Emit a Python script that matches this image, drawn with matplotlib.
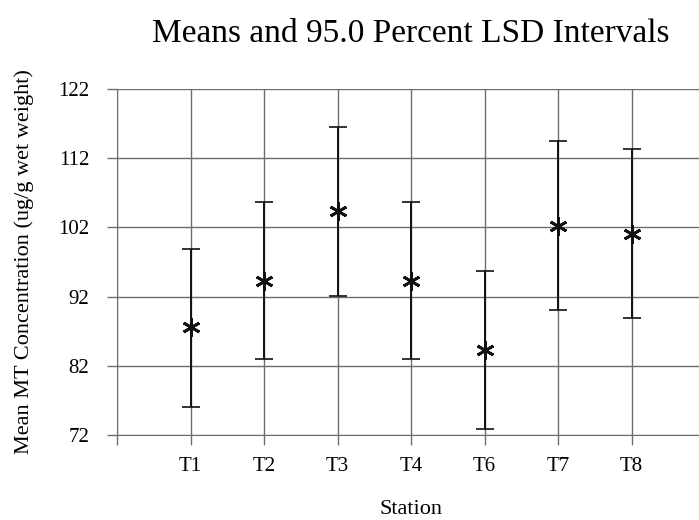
import matplotlib
matplotlib.use("Agg")
import matplotlib.pyplot as plt

stations = ["T1", "T2", "T3", "T4", "T6", "T7", "T8"]
means = [87.6, 94.3, 104.4, 94.3, 84.3, 102.2, 101.1]
lower = [76.1, 83.0, 92.1, 83.0, 72.9, 90.0, 88.9]
upper = [98.9, 105.6, 116.5, 105.6, 95.7, 114.5, 113.3]
yticks = [72, 82, 92, 102, 112, 122]

plt.rcParams['font.family'] = ['Liberation Serif', 'DejaVu Serif']

fig = plt.figure(figsize=(6.99, 5.20), dpi=100)
ax = fig.add_axes([117/699, 1-435/520, (705-117)/699, (435-89)/520])

x = list(range(1, len(stations)+1))
yerr = [[m-l for m, l in zip(means, lower)], [u-m for m, u in zip(means, upper)]]
ax.errorbar(x, means, yerr=yerr, fmt='none', ecolor='#111111', elinewidth=1.4,
            capsize=6.5, capthick=1.2, zorder=3)
ax.plot(x, means, linestyle='none', marker=(6, 2, 0), markersize=13,
        markeredgewidth=2.0, color='#111111', zorder=4)

ax.set_xlim(0, 8)
ax.set_ylim(72, 122)
ax.set_xticks([0] + x)
ax.set_xticklabels([""] + stations, fontsize=15)
ax.set_yticks(yticks)
ax.set_yticklabels([str(t) for t in yticks], fontsize=15)
ax.grid(True, color='#6e6e6e', linewidth=1.0)
ax.set_axisbelow(True)
for s in ['top', 'right']:
    ax.spines[s].set_visible(False)
ax.spines['left'].set_color('#6e6e6e')
ax.spines['bottom'].set_color('#6e6e6e')
ax.tick_params(axis='both', direction='out', length=7, color='#6e6e6e', width=1.0)
ax.tick_params(axis='x', pad=9)
ax.tick_params(axis='y', pad=13)

ax.set_xlabel("Station", fontsize=16, labelpad=17)
ax.set_ylabel("Mean MT Concentration (ug/g wet weight)", fontsize=16, labelpad=17)
ax.set_title("Means and 95.0 Percent LSD Intervals", fontsize=24, pad=34)

fig.savefig("out.png", dpi=100)
